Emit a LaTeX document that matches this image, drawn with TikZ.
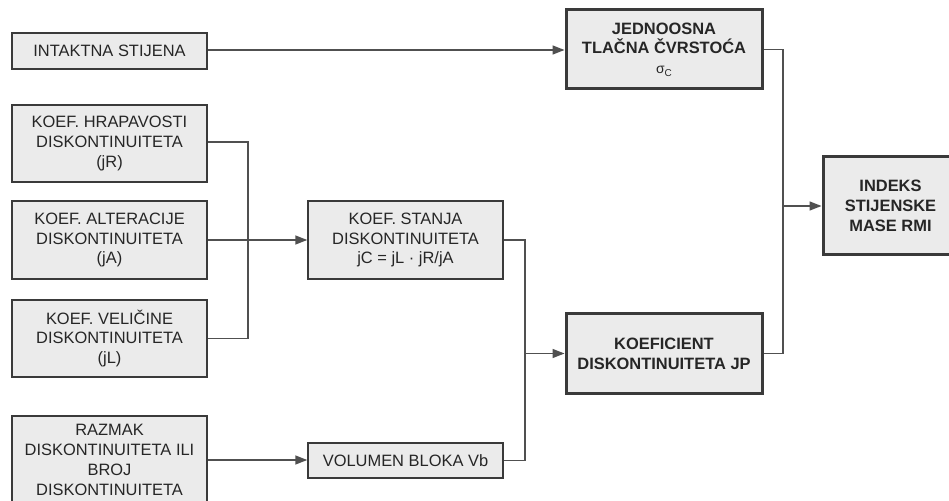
\documentclass[tikz,border=0pt]{standalone}
\usepackage{fontspec}
\setmainfont{Liberation Sans}
\usetikzlibrary{arrows.meta}
\definecolor{boxfill}{HTML}{EBEBEB}
\definecolor{boxline}{HTML}{3A3A3A}
\definecolor{connline}{HTML}{505050}
\definecolor{txt}{HTML}{262626}
\tikzset{
  box/.style={draw=boxline, fill=boxfill, line width=1.5bp, inner sep=0pt, align=center,
    text=txt, font=\fontsize{16.5}{20}\selectfont},
  boldbox/.style={box, line width=3bp, font=\fontsize{16.5}{20}\selectfont\bfseries},
  conn/.style={draw=connline, line width=1.5bp},
  arr/.style={conn, -{Triangle[length=12bp,width=9bp]}},
}
\begin{document}
\begin{tikzpicture}[x=1bp,y=-1bp]
\useasboundingbox (0,0) rectangle (949,501);
\fill[white] (0,0) rectangle (949,501);
\node[box, minimum width=195bp, minimum height=36bp] (intakt) at (109.5,51) {INTAKTNA STIJENA};
\node[box, minimum width=195bp, minimum height=77bp] (hrap) at (109.5,143.5) {KOEF. HRAPAVOSTI\\DISKONTINUITETA\\(jR)};
\node[box, minimum width=195bp, minimum height=78bp] (alter) at (109.5,240) {KOEF. ALTERACIJE\\DISKONTINUITETA\\(jA)};
\node[box, minimum width=195bp, minimum height=77bp] (velic) at (109.5,338.5) {KOEF. VELIČINE\\DISKONTINUITETA\\(jL)};
\node[box, minimum width=195bp, minimum height=88bp] (razmak) at (109.5,460) {RAZMAK\\DISKONTINUITETA ILI\\BROJ\\DISKONTINUITETA};
\node[box, minimum width=195bp, minimum height=78bp] (stanja) at (405.5,240) {KOEF. STANJA\\DISKONTINUITETA\\jC = jL · jR/jA};
\node[box, minimum width=195bp, minimum height=35bp] (volumen) at (405.5,460.5) {VOLUMEN BLOKA Vb};
\node[boldbox, minimum width=196bp, minimum height=79bp] (jedno) at (664,49.5) {JEDNOOSNA\\TLAČNA ČVRSTOĆA\\{\normalfont\fontsize{14}{16}\selectfont σ\raisebox{-2.5bp}{\fontsize{10}{11}\selectfont C}}};
\node[boldbox, minimum width=196bp, minimum height=79bp] (koefic) at (664,353.5) {KOEFICIENT\\DISKONTINUITETA JP};
\node[boldbox, minimum width=135bp, minimum height=98bp] (indeks) at (890.5,206) {INDEKS\\STIJENSKE\\MASE RMI};

\coordinate (j1) at (248,240);
\coordinate (j2) at (525,353.5);
\coordinate (j3) at (783,206);

\draw[arr] (intakt.east |- 0,50) -- (jedno.west |- 0,50);
\draw[conn] (hrap.east |- 0,142) -- (j1 |- 0,142) -- (j1 |- velic.east) -- (velic.east);
\draw[arr] (alter.east) -- (stanja.west);
\draw[conn] (stanja.east) -- (j2 |- stanja.east) -- (j2 |- volumen.east) -- (volumen.east);
\draw[arr] (j2) -- (koefic.west);
\draw[arr] (razmak.east) -- (volumen.west |- razmak.east);
\draw[conn] (jedno.east) -- (j3 |- jedno.east) -- (j3 |- koefic.east) -- (koefic.east);
\draw[arr] (j3) -- (indeks.west);
\end{tikzpicture}
\end{document}
